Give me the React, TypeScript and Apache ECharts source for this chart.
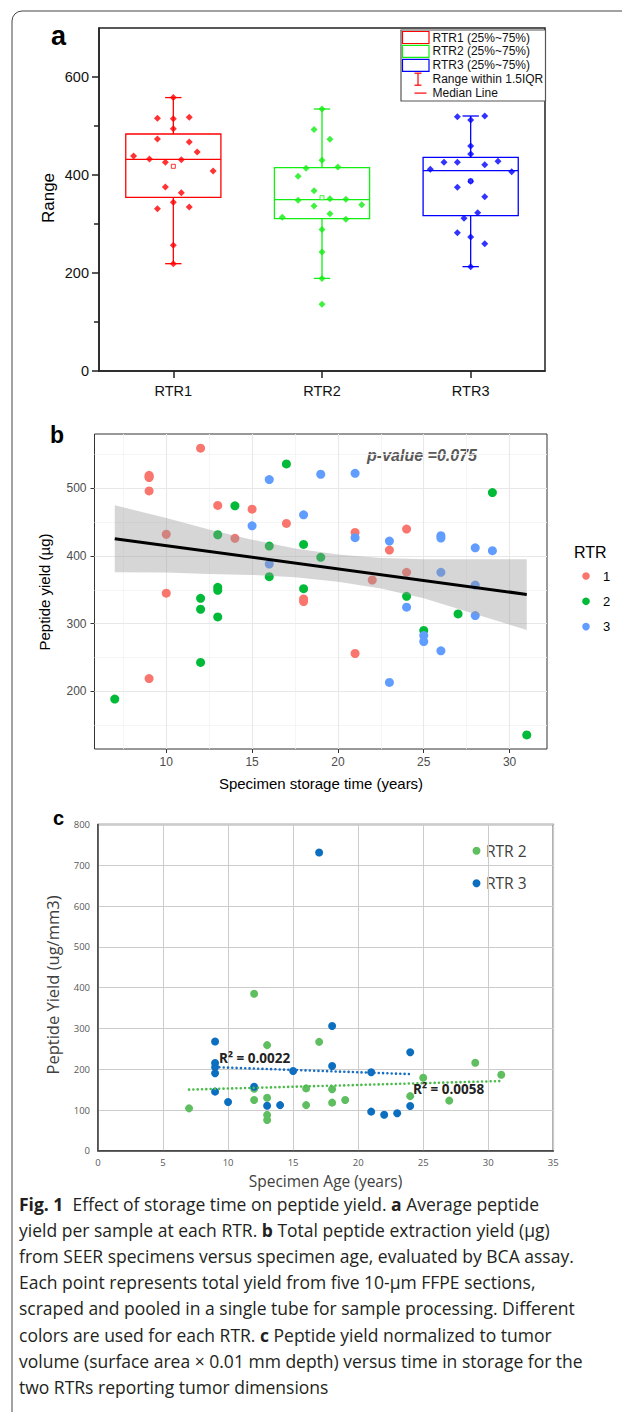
import React, { useEffect, useRef } from 'react';
import * as echarts from 'echarts';

// ---------- Panel a ----------
const aCategories = ['RTR1', 'RTR2', 'RTR3'];
const aTicks = [0, 200, 400, 600];
const aMinorTicks = [100, 300, 500];
const aMin = [219, 189, 213];
const aQ1 = [354.4, 311, 317];
const aMedian = [432, 349.7, 408.8];
const aQ3 = [483.7, 415, 436];
const aMax = [558, 534.7, 520.4];
const aMean = [417.7, 353.7, 387.7];
const aYield1 = [558, 515.6, 515, 517.7, 494.6, 473.5, 467.3, 447, 438.8, 432.7, 425.9, 431.3, 408.2, 375.5, 364, 344.2, 331.3, 334.7, 256.5, 219];
const aJitter1 = [0, -2, 0, 2, 0, -2, 2, 3, -5, -3, -1, 1, 5, -1, 1, 0, -2, 2, 0, 0];
const aYield2 = [534.7, 493, 472.8, 430, 413.6, 416.3, 397.3, 368, 348.3, 351.7, 350.3, 336.7, 339.5, 321, 313.6, 309.5, 289, 242.9, 189, 136];
const aJitter2 = [0, -1, 1, 0, -2, 2, -3, -1, -3, 1, 3, -1, 5, 1, -5, 3, 0, 0, 0, 0];
const aYield3 = [519, 520.4, 512, 459, 443, 411.6, 425.9, 425.9, 421, 428, 406.8, 387, 374.8, 355.8, 323, 311.6, 282.3, 273.5, 259.9, 213];
const aJitter3 = [-1.67, 1.77, 0, 0, 0, -5.07, -3.35, -1.67, 1.77, 3.44, 5.16, 0, -1.67, 1.77, 0.88, -0.84, -1.67, 0, 1.77, 0];
const aLegend = ['RTR1 (25%~75%)', 'RTR2 (25%~75%)', 'RTR3 (25%~75%)', 'Range within 1.5IQR', 'Median Line'];

// ---------- Panel b ----------
const bXTicks = [10, 15, 20, 25, 30];
const bYTicks = [200, 300, 400, 500];
const bMinorX = [7.5, 12.5, 17.5, 22.5, 27.5];
const bMinorY = [150, 250, 350, 450, 550];
const bYears1 = [12, 9, 9, 9, 9, 10, 10, 9, 13, 14, 15, 17, 18, 18, 21, 21, 22, 23, 24, 24];
const bYield1 = [559, 519, 517, 515.7, 496, 432, 345, 219, 474.5, 426, 469, 448, 336.5, 332.6, 434.7, 256, 364.5, 408.7, 439.6, 375.8];
const bYears2 = [7, 17, 14, 13, 16, 18, 19, 16, 13, 13, 12, 12, 13, 12, 18, 24, 27, 25, 29, 31];
const bYield2 = [188.7, 535.8, 474, 431.3, 414.6, 417, 397.9, 369.4, 353.7, 349.3, 337.5, 321.3, 310, 242.8, 351.7, 340.4, 314.4, 289.9, 493.6, 135.7];
const bYears3 = [16, 19, 21, 15, 18, 16, 21, 23, 26, 26, 26, 28, 29, 28, 28, 24, 25, 25, 26, 23];
const bYield3 = [512.8, 520.6, 522, 444.5, 460.7, 388, 426.9, 422, 429.8, 426.4, 375.8, 412, 407.7, 357, 312, 324.3, 282.5, 273.7, 260, 213.3];
const bBandX = [7, 10, 12.5, 15, 17.5, 20, 22.5, 25, 27.5, 31];
const bBandHi = [474.8, 456, 439, 424, 411, 402, 397, 395, 395, 395];
const bBandLo = [376, 375.5, 373.5, 372, 368.5, 362, 352, 337.5, 318, 290.7];
const bFitX = [7, 31];
const bFitY = [425.4, 343.2];
const bLegend = ['1', '2', '3'];

// ---------- Panel c ----------
const cYears2 = [7, 12, 13, 17, 13, 12, 12, 13, 13, 16, 16, 18, 18, 19, 25, 24, 27, 29, 31];
const cYield2 = [104, 385, 259, 267, 130, 124.5, 152, 88, 75.5, 153, 112, 151, 118, 124.5, 179, 134, 123, 216, 186.5];
const cYears3 = [9, 9, 9, 9, 9, 10, 12, 13, 14, 15, 17, 18, 18, 21, 21, 22, 23, 24, 24];
const cYield3 = [268, 215, 205, 190, 145, 119.6, 157, 110.6, 112, 195.6, 731, 306, 207.8, 192.4, 96, 88.5, 92, 109.8, 241.4];
const cFit2X = [7, 31];
const cFit2Y = [150, 171];
const cFit3X = [9, 24];
const cFit3Y = [205, 188];
const cLegend = ['RTR 2', 'RTR 3'];
const cR2 = ['R² = 0.0022', 'R² = 0.0058'];

const captionLines = [
  '{b|Fig. 1}  Effect of storage time on peptide yield. {b|a} Average peptide',
  'yield per sample at each RTR. {b|b} Total peptide extraction yield (µg)',
  'from SEER specimens versus specimen age, evaluated by BCA assay.',
  'Each point represents total yield from five 10-µm FFPE sections,',
  'scraped and pooled in a single tube for sample processing. Different',
  'colors are used for each RTR. {b|c} Peptide yield normalized to tumor',
  'volume (surface area × 0.01 mm depth) versus time in storage for the',
  'two RTRs reporting tumor dimensions',
];

const ARIAL = '"Liberation Sans", Arial, sans-serif';
const CAL = '"Open Sans", sans-serif';
const aColors = ['#ff0000', '#11ee11', '#0000ff'];
const bColors = ['#F8766D', '#00BA38', '#619CFF'];
const cColors = ['#5fbe5f', '#0b6ebf'];

export default function App() {
  const ref = useRef<HTMLDivElement>(null);
  useEffect(() => {
    document.body.style.margin = '0';
    const chart = echarts.init(ref.current as HTMLDivElement, null, { renderer: 'svg' });
    const step = 0.0535;
    const aScatter = [aYield1, aYield2, aYield3].map((vals, k) => {
      const jit = [aJitter1, aJitter2, aJitter3][k];
      return {
        type: 'scatter', xAxisIndex: 1, yAxisIndex: 0, z: 3,
        symbol: 'diamond', symbolSize: 7,
        itemStyle: { color: aColors[k] },
        data: vals.map((v, i) => [k + 1 + jit[i] * step, v]),
      };
    });
    const bScatter = [[bYears1, bYield1], [bYears2, bYield2], [bYears3, bYield3]].map(([xs, ys], k) => ({
      type: 'scatter', xAxisIndex: 2, yAxisIndex: 2, z: 2,
      symbolSize: 9, itemStyle: { color: bColors[k], opacity: 1 },
      data: xs.map((x, i) => [x, ys[i]]),
    }));
    const cScatter = [[cYears2, cYield2], [cYears3, cYield3]].map(([xs, ys], k) => ({
      type: 'scatter', xAxisIndex: 3, yAxisIndex: 3, z: 2,
      symbolSize: 8, itemStyle: { color: cColors[k], opacity: 1 },
      data: xs.map((x, i) => [x, ys[i]]),
    }));
    const cTrend = [[cFit2X, cFit2Y], [cFit3X, cFit3Y]].map(([xs, ys], k) => ({
      type: 'line', xAxisIndex: 3, yAxisIndex: 3, z: 4, symbol: 'none',
      lineStyle: { color: k === 0 ? '#4cbb4c' : '#1a6fc4', width: 2.6, type: [0.01, 4.3], cap: 'round' },
      data: xs.map((x, i) => [x, ys[i]]),
    }));

    const g: any[] = [];
    g.push({ type: 'rect', shape: { x: 12, y: 11, width: 700, height: 1500, r: 10 }, style: { fill: 'none', stroke: '#444', lineWidth: 1 } });
    // panel labels
    g.push({ type: 'text', x: 51, y: 36, style: { text: 'a', fontSize: 27, fontWeight: 'bold', fontFamily: ARIAL, fill: '#000', verticalAlign: 'middle' } });
    g.push({ type: 'text', x: 50, y: 435, style: { text: 'b', fontSize: 23, fontWeight: 'bold', fontFamily: ARIAL, fill: '#000', verticalAlign: 'middle' } });
    g.push({ type: 'text', x: 53, y: 818, style: { text: 'c', fontSize: 20, fontWeight: 'bold', fontFamily: ARIAL, fill: '#000', verticalAlign: 'middle' } });
    // axis titles
    g.push({ type: 'text', x: 48, y: 198, rotation: Math.PI / 2, style: { text: 'Range', fontSize: 17, fontFamily: ARIAL, fill: '#000', align: 'center', verticalAlign: 'middle' } });
    g.push({ type: 'text', x: 44, y: 592, rotation: Math.PI / 2, style: { text: 'Peptide yield (µg)', fontSize: 15, fontFamily: ARIAL, fill: '#000', align: 'center', verticalAlign: 'middle' } });
    g.push({ type: 'text', x: 321, y: 783, style: { text: 'Specimen storage time (years)', fontSize: 15, fontFamily: ARIAL, fill: '#000', align: 'center', verticalAlign: 'middle' } });
    g.push({ type: 'text', x: 52, y: 985, rotation: Math.PI / 2, style: { text: 'Peptide Yield (ug/mm3)', fontSize: 16.5, fontFamily: CAL, fill: '#404040', align: 'center', verticalAlign: 'middle' } });
    g.push({ type: 'text', x: 325.5, y: 1181, style: { text: 'Specimen Age (years)', fontSize: 15.5, fontFamily: CAL, fill: '#404040', align: 'center', verticalAlign: 'middle' } });
    // panel a legend
    g.push({ type: 'rect', shape: { x: 401, y: 30, width: 144.5, height: 71 }, style: { fill: '#fff', stroke: '#555', lineWidth: 1.2 } });
    aLegend.forEach((t, k) => {
      const y = 37.5 + 13.9 * k;
      if (k < 3) {
        g.push({ type: 'rect', shape: { x: 402.5, y: y - 6, width: 26.5, height: 12 }, style: { fill: 'none', stroke: aColors[k], lineWidth: 1.2 } });
      } else if (k === 3) {
        g.push({ type: 'line', shape: { x1: 418, y1: y - 6, x2: 418, y2: y + 6 }, style: { stroke: '#ff0000', lineWidth: 1.2 } });
        g.push({ type: 'line', shape: { x1: 414.5, y1: y - 6, x2: 421.5, y2: y - 6 }, style: { stroke: '#ff0000', lineWidth: 1.2 } });
        g.push({ type: 'line', shape: { x1: 414.5, y1: y + 6, x2: 421.5, y2: y + 6 }, style: { stroke: '#ff0000', lineWidth: 1.2 } });
      } else {
        g.push({ type: 'line', shape: { x1: 414.5, y1: y, x2: 426.5, y2: y }, style: { stroke: '#ff0000', lineWidth: 1.2 } });
      }
      g.push({ type: 'text', x: 432.5, y, style: { text: t, fontSize: 12, fontFamily: ARIAL, fill: '#111', verticalAlign: 'middle' } });
    });
    // panel b legend + annotation
    g.push({ type: 'text', x: 574, y: 552, style: { text: 'RTR', fontSize: 16, fontFamily: ARIAL, fill: '#000', verticalAlign: 'middle' } });
    bLegend.forEach((t, k) => {
      const y = 576 + 25.3 * k;
      g.push({ type: 'circle', shape: { cx: 586, cy: y, r: 3.8 }, style: { fill: bColors[k] } });
      g.push({ type: 'text', x: 603, y, style: { text: t, fontSize: 13, fontFamily: ARIAL, fill: '#000', verticalAlign: 'middle' } });
    });
    g.push({ type: 'text', x: 422, y: 455, style: { text: 'p-value =0.075', fontSize: 16, fontWeight: 'bold', fontStyle: 'italic', fontFamily: ARIAL, fill: '#595959', align: 'center', verticalAlign: 'middle' } });
    // panel c legend + R2
    cLegend.forEach((t, k) => {
      const y = 850.7 + 32.6 * k;
      g.push({ type: 'circle', shape: { cx: 476.5, cy: y, r: 4 }, style: { fill: cColors[k] } });
      g.push({ type: 'text', x: 486, y, style: { text: t, fontSize: 15.5, fontFamily: CAL, fill: '#404040', verticalAlign: 'middle' } });
    });
    g.push({ type: 'text', x: 219, y: 1058, z: 10, style: { text: cR2[0], fontSize: 13.5, fontWeight: 'bold', fontFamily: CAL, fill: '#222', verticalAlign: 'middle' } });
    g.push({ type: 'text', x: 413, y: 1089, z: 10, style: { text: cR2[1], fontSize: 13.5, fontWeight: 'bold', fontFamily: CAL, fill: '#222', verticalAlign: 'middle' } });
    // caption
    captionLines.forEach((t, k) => {
      g.push({
        type: 'text', x: 19, y: 1204 + 26.1 * k,
        style: {
          text: t, fontSize: 17.5, fontFamily: CAL, fill: '#231f20', verticalAlign: 'middle',
          rich: { b: { fontSize: 17.5, fontFamily: CAL, fontWeight: 'bold', fill: '#231f20' } },
        },
      });
    });

    const option: any = {
      animation: false,
      textStyle: { fontFamily: ARIAL },
      grid: [
        { left: 99, top: 28, width: 446, height: 343, show: true, borderColor: '#222', borderWidth: 1.5, containLabel: false },
        { left: 94.5, top: 434, width: 452.5, height: 315, show: true, borderColor: '#333', borderWidth: 1 },
        { left: 98, top: 824.4, width: 455.3, height: 326.4, show: true, borderColor: '#555', borderWidth: 1.5 },
      ],
      xAxis: [
        {
          gridIndex: 0, type: 'category', data: aCategories, boundaryGap: true, position: 'bottom',
          axisLine: { show: true, onZero: false, lineStyle: { color: '#222', width: 1.5 } },
          axisTick: { show: true, alignWithLabel: true, length: 7, lineStyle: { color: '#222', width: 1.5 } },
          axisLabel: { fontSize: 14.5, color: '#111', fontFamily: ARIAL, margin: 12 },
          splitLine: { show: false },
        },
        { gridIndex: 0, type: 'value', min: 0.5, max: 3.5, show: false, position: 'top' },
        {
          gridIndex: 1, type: 'value', min: 5.82, max: 32.18, position: 'bottom',
          axisLine: { show: false, onZero: false },
          axisTick: { show: true, customValues: bXTicks, length: 4, lineStyle: { color: '#333' } },
          axisLabel: { customValues: bXTicks, fontSize: 12, color: '#4d4d4d', fontFamily: ARIAL, margin: 7 },
          splitLine: { show: false },
        },
        {
          gridIndex: 2, type: 'value', min: 0, max: 35, interval: 5, position: 'bottom',
          axisLine: { show: true, onZero: false, lineStyle: { color: '#444', width: 1.5 } },
          axisTick: { show: false },
          axisLabel: { fontSize: 9.5, color: '#595959', fontFamily: CAL, margin: 7 },
          splitLine: { show: true, lineStyle: { color: '#cccccc', width: 1 } },
        },
      ],
      yAxis: [
        {
          gridIndex: 0, type: 'value', min: 0, max: 700, position: 'left',
          axisLine: { show: true, onZero: false, lineStyle: { color: '#222', width: 1.5 } },
          axisTick: { show: true, customValues: aTicks, length: 7, lineStyle: { color: '#222', width: 1.5 } },
          axisLabel: { customValues: aTicks, fontSize: 14.5, color: '#111', fontFamily: ARIAL, margin: 10 },
          splitLine: { show: false },
        },
        {
          gridIndex: 0, type: 'value', min: 0, max: 700, position: 'left',
          axisLine: { show: false, onZero: false },
          axisTick: { show: true, customValues: aMinorTicks, length: 5, lineStyle: { color: '#222', width: 1.5 } },
          axisLabel: { show: false },
          splitLine: { show: false },
        },
        {
          gridIndex: 1, type: 'value', min: 115, max: 580, position: 'left',
          axisLine: { show: false, onZero: false },
          axisTick: { show: true, customValues: bYTicks, length: 4, lineStyle: { color: '#333' } },
          axisLabel: { customValues: bYTicks, fontSize: 12, color: '#4d4d4d', fontFamily: ARIAL, margin: 8 },
          splitLine: { show: false },
        },
        {
          gridIndex: 2, type: 'value', min: 0, max: 800, interval: 100, position: 'left',
          axisLine: { show: true, onZero: false, lineStyle: { color: '#444', width: 1.5 } },
          axisTick: { show: false },
          axisLabel: { fontSize: 9.5, color: '#595959', fontFamily: CAL, margin: 8 },
          splitLine: { show: true, lineStyle: { color: '#cccccc', width: 1 } },
        },
      ],
      series: [
        {
          type: 'custom', xAxisIndex: 0, yAxisIndex: 0, z: 2,
          encode: { x: 0, y: [1, 2, 3, 4, 5] },
          data: aCategories.map((_, i) => [i, aMin[i], aQ1[i], aMedian[i], aQ3[i], aMax[i], aMean[i]]),
          renderItem: (params: any, api: any) => {
            const i = params.dataIndex;
            const c = aColors[i];
            const band = api.size([1, 0])[0];
            const hw = band * 0.32;
            const cw = band * 0.055;
            const cat = api.value(0);
            const pt = (v: number) => api.coord([cat, v]);
            const [cx, yMin] = pt(api.value(1));
            const yQ1 = pt(api.value(2))[1];
            const yMed = pt(api.value(3))[1];
            const yQ3 = pt(api.value(4))[1];
            const yMax = pt(api.value(5))[1];
            const yMean = pt(api.value(6))[1];
            const ls = { stroke: c, lineWidth: 1.3, fill: 'none' };
            return {
              type: 'group',
              children: [
                { type: 'line', shape: { x1: cx, y1: yQ3, x2: cx, y2: yMax }, style: ls },
                { type: 'line', shape: { x1: cx, y1: yQ1, x2: cx, y2: yMin }, style: ls },
                { type: 'line', shape: { x1: cx - cw, y1: yMax, x2: cx + cw, y2: yMax }, style: ls },
                { type: 'line', shape: { x1: cx - cw, y1: yMin, x2: cx + cw, y2: yMin }, style: ls },
                { type: 'rect', shape: { x: cx - hw, y: yQ3, width: 2 * hw, height: yQ1 - yQ3 }, style: ls },
                { type: 'line', shape: { x1: cx - hw, y1: yMed, x2: cx + hw, y2: yMed }, style: ls },
                { type: 'rect', shape: { x: cx - 2, y: yMean - 2, width: 4, height: 4 }, style: { stroke: c, lineWidth: 0.8, fill: '#fff' } },
              ],
            };
          },
        },
        ...aScatter,
        {
          type: 'line', xAxisIndex: 2, yAxisIndex: 2, data: [], silent: true,
          markLine: {
            silent: true, symbol: 'none', z: 1, animation: false,
            label: { show: false },
            data: [
              ...bMinorX.map((x) => ({ xAxis: x, lineStyle: { color: '#f3f3f3', width: 0.8, type: 'solid' } })),
              ...bMinorY.map((y) => ({ yAxis: y, lineStyle: { color: '#f3f3f3', width: 0.8, type: 'solid' } })),
              ...bXTicks.map((x) => ({ xAxis: x, lineStyle: { color: '#e8e8e8', width: 1.1, type: 'solid' } })),
              ...bYTicks.map((y) => ({ yAxis: y, lineStyle: { color: '#e8e8e8', width: 1.1, type: 'solid' } })),
            ],
          },
        },
        ...bScatter,
        {
          type: 'custom', xAxisIndex: 2, yAxisIndex: 2, z: 3,
          encode: { x: 0, y: [1, 2] },
          data: bBandX.map((x, i) => [x, bBandLo[i], bBandHi[i]]),
          renderItem: (params: any, api: any) => {
            if (params.dataIndex !== 0) return null;
            const upper = bBandX.map((x, i) => api.coord([x, bBandHi[i]]));
            const lower = bBandX.map((x, i) => api.coord([x, bBandLo[i]])).reverse();
            return { type: 'polygon', shape: { points: upper.concat(lower) }, style: { fill: 'rgba(153,153,153,0.4)' } };
          },
        },
        {
          type: 'line', xAxisIndex: 2, yAxisIndex: 2, z: 4, symbol: 'none',
          lineStyle: { color: '#000', width: 3 },
          data: bFitX.map((x, i) => [x, bFitY[i]]),
        },
        ...cScatter,
        ...cTrend,
      ],
      graphic: { elements: g },
    };
    chart.setOption(option);
    return () => chart.dispose();
  }, []);
  return <div ref={ref} style={{ width: 622, height: 1412 }} />;
}
